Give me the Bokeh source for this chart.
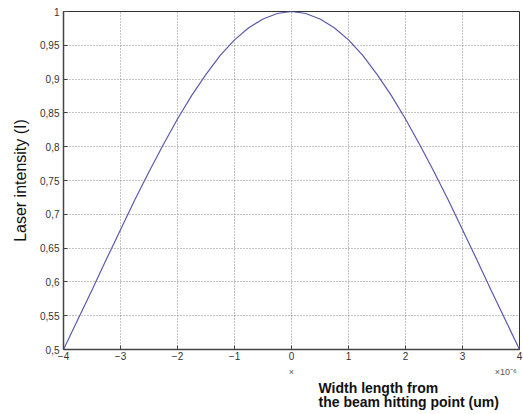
from bokeh.plotting import figure
from bokeh.models import Range1d, FixedTicker, LinearAxis, Title
from bokeh.embed import file_html
from bokeh.resources import INLINE

# Data (x in units of 1e-6)
x_vals = [-4, -3.75, -3.5, -3.25, -3, -2.75, -2.5, -2.25, -2, -1.75, -1.5, -1.25, -1, -0.75, -0.5, -0.25,
          0, 0.25, 0.5, 0.75, 1, 1.25, 1.5, 1.75, 2, 2.25, 2.5, 2.75, 3, 3.25, 3.5, 3.75, 4]
intensity = [0.500, 0.544, 0.588, 0.633, 0.677, 0.721, 0.763, 0.803, 0.841, 0.876, 0.907, 0.935, 0.958, 0.976, 0.989, 0.997,
             1.000, 0.997, 0.989, 0.976, 0.958, 0.935, 0.907, 0.876, 0.841, 0.803, 0.763, 0.721, 0.677, 0.633, 0.588, 0.544, 0.500]

x_ticks = [-4, -3, -2, -1, 0, 1, 2, 3, 4]
x_tick_labels = ["\u22124", "\u22123", "\u22122", "\u22121", "0", "1", "2", "3", "4"]
y_ticks = [0.5, 0.55, 0.6, 0.65, 0.7, 0.75, 0.8, 0.85, 0.9, 0.95, 1.0]
y_tick_labels = ["0,5", "0,55", "0,6", "0,65", "0,7", "0,75", "0,8", "0,85", "0,9", "0,95", "1"]
# secondary annotation row under the x axis: variable name and exponent
note_ticks = [0, 3.76]
note_labels = ["\u00d7", "\u00d710\u207b\u2076"]

FONT = "Liberation Sans"

p = figure(width=523, height=414, output_backend="svg", toolbar_location=None,
           x_range=Range1d(-4, 4), y_range=Range1d(0.5, 1.0),
           min_border_left=63, min_border_right=4, min_border_top=11, min_border_bottom=65)
p.background_fill_color = "white"
p.border_fill_color = "white"
p.outline_line_color = "#333333"
p.outline_line_width = 1

p.line(x_vals, intensity, line_color="#5a5aad", line_width=1.2)

p.xaxis.ticker = FixedTicker(ticks=x_ticks)
p.yaxis.ticker = FixedTicker(ticks=y_ticks)
p.xaxis.major_label_overrides = {t: l for t, l in zip(x_ticks, x_tick_labels)}
p.yaxis.major_label_overrides = {t: l for t, l in zip(y_ticks, y_tick_labels)}

for ax in (p.xaxis[0], p.yaxis[0]):
    ax.major_tick_in = 4
    ax.major_tick_out = 0
    ax.minor_tick_line_color = None
    ax.axis_line_color = "#444444"
    ax.axis_line_width = 1.5
    ax.major_tick_line_color = "#444444"
    ax.major_label_text_font = FONT
    ax.major_label_text_font_size = "10px"
    ax.major_label_text_color = "#333333"
p.xaxis.major_label_standoff = 2
p.yaxis.major_label_standoff = 4

p.yaxis.axis_label = "Laser intensity (I)"
p.yaxis.axis_label_text_font = FONT
p.yaxis.axis_label_text_font_size = "16px"
p.yaxis.axis_label_text_font_style = "normal"
p.yaxis.axis_label_text_color = "#111111"
p.yaxis.axis_label_standoff = 8

p.grid.grid_line_color = "#888888"
p.grid.grid_line_dash = "1 2"
p.grid.grid_line_width = 1

note_axis = LinearAxis(ticker=FixedTicker(ticks=note_ticks),
                       major_label_overrides={t: l for t, l in zip(note_ticks, note_labels)},
                       axis_line_color=None, major_tick_line_color=None, minor_tick_line_color=None,
                       major_tick_in=0, major_tick_out=0, major_label_standoff=4,
                       major_label_text_font=FONT, major_label_text_font_size="9px",
                       major_label_text_color="#555555")
p.add_layout(note_axis, "below")

p.add_layout(Title(text="Width length from\nthe beam hitting point (um)", align="left", offset=255, text_font=FONT,
                   text_font_size="14px", text_font_style="bold", text_color="#111111",
                   text_line_height=0.85, standoff=-3), "below")

open("out.html", "w").write(file_html(p, INLINE))
